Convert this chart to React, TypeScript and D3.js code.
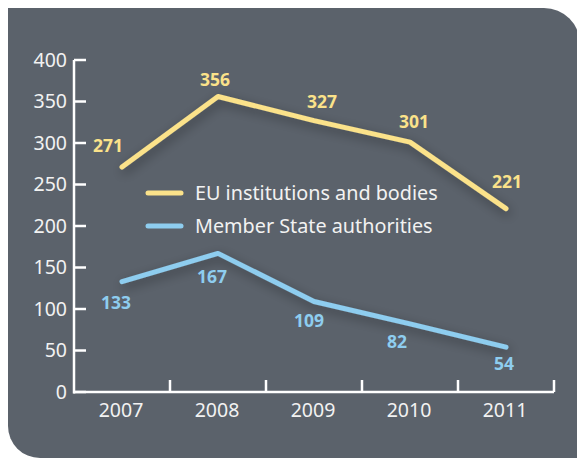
import React from "react";
import * as d3 from "d3";

const years = ["2007", "2008", "2009", "2010", "2011"];
const euValues = [271, 356, 327, 301, 221];
const msValues = [133, 167, 109, 82, 54];
const yTicks = [0, 50, 100, 150, 200, 250, 300, 350, 400];
const seriesNames = ["EU institutions and bodies", "Member State authorities"];

const YELLOW = "#fbe28a";
const BLUE = "#8ecdef";
const PANEL = "#5b626b";
const FONT = "'Noto Sans', 'Open Sans', sans-serif";

// label offsets [dx, dy] (baseline) relative to point
const euLabelOff = [[-14, -15], [-3, -11], [8, -13], [4, -14], [1, -21]];
const msLabelOff = [[-6, 27], [-6, 30], [-5, 25], [-13, 24], [-2, 23]];

export default function App() {
  const x = d3.scaleBand().domain(years).range([74, 554]);
  const y = d3.scaleLinear().domain([0, 400]).range([392, 60]);
  const cx = (d: string) => (x(d) as number) + x.bandwidth() / 2;
  const line = d3.line<number>().x((_, i) => cx(years[i])).y((v) => y(v));

  const W = 577, H = 458;
  const rTR = 36, rBL = 32;
  const panel = `M8,8 L${W + 3 - rTR},8 A${rTR},${rTR} 0 0 1 ${W + 3},${8 + rTR} L${W + 3},${H} L${8 + rBL},${H} A${rBL},${rBL} 0 0 1 8,${H - rBL} Z`;

  return (
    <svg width={W} height={H} style={{ position: "absolute", left: 0, top: 0 }} fontFamily={FONT}>
      <defs>
        <filter id="sh" x="-20%" y="-50%" width="140%" height="200%">
          <feGaussianBlur in="SourceAlpha" stdDeviation="6" />
          <feOffset dx="2" dy="4" result="b" />
          <feComponentTransfer>
            <feFuncA type="linear" slope="0.4" />
          </feComponentTransfer>
          <feMerge>
            <feMergeNode />
            <feMergeNode in="SourceGraphic" />
          </feMerge>
        </filter>
      </defs>
      <rect width={W} height={H} fill="#ffffff" />
      <path d={panel} fill={PANEL} />

      {/* y axis */}
      <line x1={74} x2={74} y1={y(400)} y2={y(0) + 1.5} stroke="#fff" strokeWidth={2.5} />
      {yTicks.map((t) => (
        <g key={t}>
          <line x1={74} x2={86} y1={y(t)} y2={y(t)} stroke="#fff" strokeWidth={2.5} />
          <text x={67} y={y(t)} dy="0.35em" textAnchor="end" fill="#f2f2f2" fontSize={19.5}>
            {t}
          </text>
        </g>
      ))}
      {/* x axis */}
      <line x1={73} x2={554} y1={y(0)} y2={y(0)} stroke="#fff" strokeWidth={2.5} />
      {years.map((yr) => (
        <g key={yr}>
          <line
            x1={(x(yr) as number) + x.bandwidth()}
            x2={(x(yr) as number) + x.bandwidth()}
            y1={y(0)}
            y2={y(0) - 12}
            stroke="#fff"
            strokeWidth={2.5}
          />
          <text x={cx(yr) - 1} y={y(0) + 25} textAnchor="middle" fill="#f2f2f2" fontSize={19.5}>
            {yr}
          </text>
        </g>
      ))}

      {/* lines */}
      <path d={line(euValues) || ""} fill="none" stroke={YELLOW} strokeWidth={5} strokeLinejoin="round" strokeLinecap="round" filter="url(#sh)" />
      <path d={line(msValues) || ""} fill="none" stroke={BLUE} strokeWidth={5} strokeLinejoin="round" strokeLinecap="round" filter="url(#sh)" />

      {/* data labels */}
      {euValues.map((v, i) => (
        <text key={"e" + i} x={cx(years[i]) + euLabelOff[i][0]} y={y(v) + euLabelOff[i][1]} textAnchor="middle" fill={YELLOW} fontSize={17.5} fontWeight="bold">
          {v}
        </text>
      ))}
      {msValues.map((v, i) => (
        <text key={"m" + i} x={cx(years[i]) + msLabelOff[i][0]} y={y(v) + msLabelOff[i][1]} textAnchor="middle" fill={BLUE} fontSize={17.5} fontWeight="bold">
          {v}
        </text>
      ))}

      {/* legend */}
      {seriesNames.map((n, i) => (
        <g key={n} transform={`translate(0, ${193 + i * 33})`}>
          <line x1={148} x2={181} y1={0} y2={0} stroke={i === 0 ? YELLOW : BLUE} strokeWidth={5} strokeLinecap="round" />
          <text x={195} y={0} dy="0.35em" fill="#f2f2f2" fontSize={19.8}>
            {n}
          </text>
        </g>
      ))}
    </svg>
  );
}
